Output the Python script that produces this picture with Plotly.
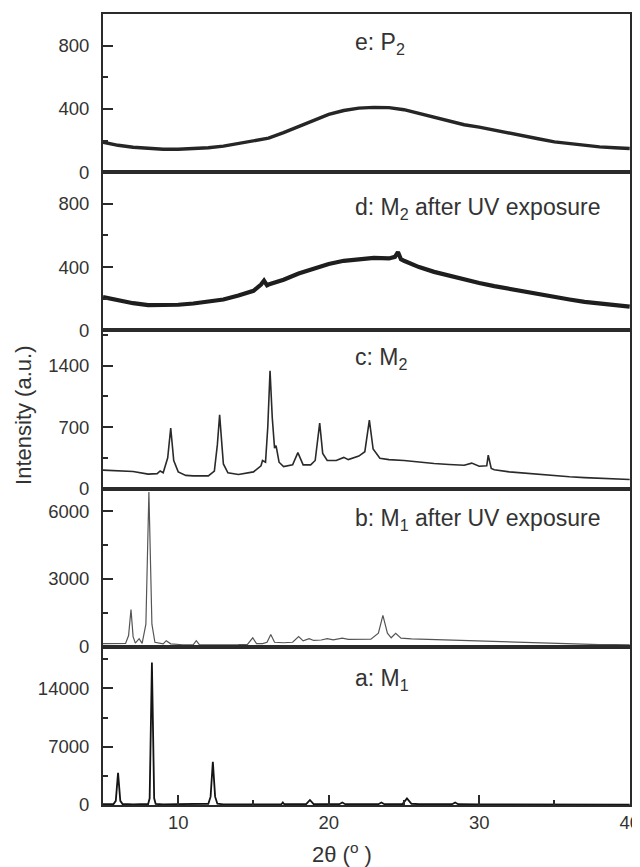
import plotly.graph_objects as go
from plotly.subplots import make_subplots

# ---- data (2theta in degrees, intensity in a.u.) ----
e_x = [5, 6, 7, 8, 9, 10, 11, 12, 13, 14, 15, 16, 17, 18, 19, 20, 21, 22, 23, 24, 25,
       26, 27, 28, 29, 30, 31, 32, 33, 34, 35, 36, 37, 38, 39, 40]
e_y = [190, 170, 158, 150, 145, 145, 148, 155, 165, 180, 195, 215, 250, 290, 330, 365,
       390, 405, 410, 408, 395, 370, 345, 320, 300, 285, 265, 245, 228, 210, 192, 180,
       168, 160, 155, 150]

d_x = [5, 6, 7, 8, 9, 10, 11, 12, 13, 14, 15, 15.5, 15.7, 15.9, 16, 17, 18, 19, 20, 21,
       22, 23, 24, 24.4, 24.6, 24.8, 25, 26, 27, 28, 29, 30, 31, 32, 33, 34, 35, 36, 37,
       38, 39, 40]
d_y = [210, 190, 172, 160, 158, 162, 170, 180, 195, 220, 250, 290, 315, 285, 290, 320,
       360, 390, 420, 440, 452, 458, 455, 465, 495, 450, 440, 400, 370, 345, 320, 300,
       280, 262, 245, 228, 210, 195, 180, 168, 158, 150]

c_x = [5, 6, 7, 8, 8.6, 8.8, 9.0, 9.3, 9.5, 9.7, 9.8, 10.0, 10.5, 11, 12, 12.4, 12.6,
       12.75, 12.9, 13.0, 13.3, 14, 15, 15.5, 15.6, 15.8, 15.95, 16.1, 16.25, 16.4, 16.5,
       16.7, 17, 17.6, 17.95, 18.3, 18.8, 19.1, 19.4, 19.6, 19.9, 20.5, 21, 21.3, 22,
       22.4, 22.7, 22.95, 23.4, 24, 25, 26, 27, 28, 29, 29.5, 30, 30.5, 30.6, 30.8, 31,
       32, 33, 34, 35, 36, 37, 38, 39, 40]
c_y = [210, 205, 195, 165, 170, 200, 180, 350, 690, 320, 270, 190, 150, 145, 145, 200,
       500, 840, 500, 280, 180, 160, 190, 260, 320, 300, 700, 1340, 800, 460, 490, 300,
       250, 270, 410, 270, 270, 320, 745, 400, 320, 320, 355, 330, 370, 420, 780, 450,
       345, 330, 320, 300, 285, 275, 265, 290, 255, 260, 380, 230, 215, 190, 175, 160,
       150, 135, 125, 115, 108, 103]

b_x = [5, 6, 6.5, 6.7, 6.86, 7.0, 7.15, 7.4, 7.6, 7.85, 8.05, 8.25, 8.45, 9.0, 9.2, 9.5,
       10.3, 11.0, 11.2, 11.4, 12, 13, 14, 14.6, 14.95, 15.2, 15.6, 15.9, 16.15, 16.4, 17,
       17.6, 18.0, 18.3, 18.7, 19, 19.5, 19.9, 20.3, 20.9, 21.3, 22, 22.8, 23.3, 23.6,
       23.9, 24.15, 24.45, 24.8, 25.5, 26, 27, 28, 29, 30, 31, 32, 33, 34, 35, 36, 37, 38,
       39, 40]
b_y = [140, 130, 150, 500, 1650, 450, 160, 360, 150, 1000, 6850, 1000, 200, 130, 270,
       130, 90, 100, 270, 100, 90, 90, 95, 110, 400, 140, 140, 200, 540, 200, 180, 200,
       450, 260, 360, 280, 300, 360, 310, 380, 330, 330, 340, 600, 1390, 600, 400, 600,
       380, 350, 340, 320, 290, 260, 230, 210, 195, 180, 160, 140, 125, 110, 100, 95, 90]

a_x = [5, 5.7, 5.85, 6.0, 6.15, 6.3, 7, 8.0, 8.1, 8.25, 8.4, 8.5, 9, 10, 11, 12.0, 12.15,
       12.3, 12.45, 12.6, 13, 14, 15, 16, 16.85, 16.95, 17.05, 18.5, 18.75, 19.0, 20.7,
       20.9, 21.1, 23.3, 23.5, 23.7, 24.9, 25.2, 25.5, 26, 28.2, 28.4, 28.6, 30, 35, 40]
a_y = [100, 120, 500, 3860, 500, 120, 80, 120, 800, 17100, 800, 120, 80, 80, 80, 150,
       1000, 5200, 1000, 150, 80, 80, 80, 80, 90, 300, 90, 100, 600, 100, 100, 300, 100,
       100, 300, 100, 100, 800, 150, 100, 100, 300, 100, 80, 60, 50]

x_tick_vals = [10, 20, 30, 40]
x_tick_text = ["10", "20", "30", "40"]

labels = ["e: P<sub>2</sub>", "d: M<sub>2</sub> after UV exposure", "c: M<sub>2</sub>",
          "b: M<sub>1</sub> after UV exposure", "a: M<sub>1</sub>"]
label_y = [813, 769, 1481, 5643, 15085]

y_ranges = [[0, 1000], [0, 1000], [0, 1800], [0, 7000], [0, 19000]]
y_dticks = [400, 400, 700, 3000, 7000]

series = [(e_x, e_y), (d_x, d_y), (c_x, c_y), (b_x, b_y), (a_x, a_y)]
line_styles = [dict(color="#262626", width=3.4), dict(color="#1e1e1e", width=4.2),
               dict(color="#2a2a2a", width=1.6), dict(color="#555555", width=1.2),
               dict(color="#141414", width=1.8)]

FONT = "Liberation Sans, Arial, sans-serif"
AX = "#2b2b2b"

fig = make_subplots(rows=5, cols=1, shared_xaxes=True, vertical_spacing=0)

for i, ((xs, ys), ls) in enumerate(zip(series, line_styles)):
    r = i + 1
    fig.add_trace(go.Scatter(x=xs, y=ys, mode="lines", line=ls, showlegend=False,
                             hoverinfo="skip"), row=r, col=1)
    fig.update_yaxes(range=y_ranges[i], dtick=y_dticks[i], tick0=0, tickformat="d",
                     ticks="inside", ticklen=10, tickwidth=1.5, tickcolor=AX,
                     minor=dict(dtick=y_dticks[i] / 2, ticks="inside", ticklen=5,
                                tickwidth=1.5, tickcolor=AX),
                     showline=True, linecolor=AX, linewidth=2, mirror=True,
                     showgrid=False, zeroline=False, automargin=False,
                     tickfont=dict(family=FONT, size=18.5, color="#333333"),
                     ticklabelstandoff=8,
                     row=r, col=1)
    fig.update_xaxes(range=[5, 40.02], showline=True, linecolor=AX, linewidth=2,
                     mirror=True, showgrid=False, zeroline=False, automargin=False,
                     row=r, col=1)
    xref = "x" if r == 1 else "x%d" % r
    yref = "y" if r == 1 else "y%d" % r
    fig.add_annotation(x=21.6, y=label_y[i], xref=xref, yref=yref, text=labels[i],
                       showarrow=False, xanchor="left", yanchor="middle",
                       font=dict(family=FONT, size=23, color="#333333"))

fig.update_xaxes(tickmode="array", tickvals=x_tick_vals, ticktext=x_tick_text,
                 ticks="inside", ticklen=10, tickwidth=1.5, tickcolor=AX,
                 minor=dict(tickmode="linear", tick0=0, dtick=5, ticks="inside",
                            ticklen=5, tickwidth=1.5, tickcolor=AX),
                 showticklabels=True,
                 tickfont=dict(family=FONT, size=18.5, color="#333333"),
                 row=5, col=1)

fig.add_annotation(x=-0.152, y=0.493, xref="paper", yref="paper",
                   text="Intensity (a.u.)", textangle=-90, showarrow=False,
                   xanchor="center", yanchor="middle",
                   font=dict(family=FONT, size=22, color="#333333"))
fig.add_annotation(x=0.4535, y=-0.0607, xref="paper", yref="paper",
                   text="2θ (<sup>o</sup> )", showarrow=False,
                   xanchor="center", yanchor="middle",
                   font=dict(family=FONT, size=22, color="#333333"))

# page body adds an 8 px offset, so the figure is sized/margined to compensate
fig.update_layout(width=632, height=859, margin=dict(l=95, r=10, t=6, b=62),
                  paper_bgcolor="white", plot_bgcolor="white")

fig.write_html("out.html")
